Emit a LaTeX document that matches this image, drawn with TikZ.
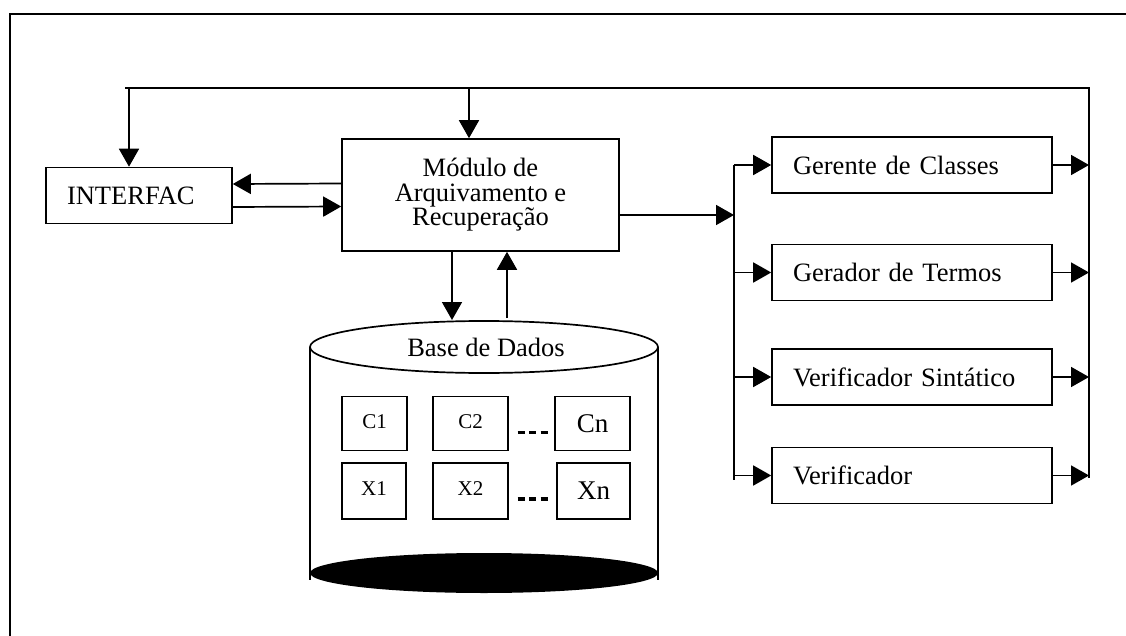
\documentclass[tikz,border=0pt]{standalone}
\usepackage{fontspec}
\setmainfont{Liberation Serif}
\usetikzlibrary{arrows.meta,positioning}

\begin{document}
\begin{tikzpicture}[x=1pt, y=-1pt, line width=1.7pt, >={Triangle[length=18pt,width=20pt]},
  box/.style={draw, line width=1.6pt, inner sep=0pt, font=\fontsize{26.5}{24.5}\selectfont, align=center},
  modbox/.style={box, minimum width=277pt, minimum height=112pt},
  sidebox/.style={box, minimum width=280pt, minimum height=56pt, text width=238pt, align=left},
  cell/.style={draw, line width=1.4pt, inner sep=0pt, minimum height=54pt, font=\fontsize{21}{22}\selectfont},
  bigcell/.style={cell, font=\fontsize{27}{28}\selectfont}]

  \useasboundingbox (0,0) rectangle (1126,636);

  % frame
  \draw (10,636) -- (10,14) -- (1126,14);

  % main blocks
  \node (inter) [box, minimum width=186pt, minimum height=56pt, text width=144pt, align=left] at (139,195.5) {INTERFAC};
  \node (mod) [modbox] at (480.5,195) {Módulo de\\Arquivamento e\\Recuperação};

  \node (gc) [sidebox] at (912,165) {Gerente de Classes};
  \node (gt) [sidebox] at (912,272.5) {Gerador de Termos};
  \node (vs) [sidebox] at (912,377) {Verificador Sintático};
  \node (vf) [sidebox] at (912,475.5) {Verificador};

  % database
  \draw (310,347) -- (310,580);
  \draw (658,347) -- (658,580);
  \fill (484,573) ellipse [x radius=174pt, y radius=20pt];
  \draw[fill=white] (484,347) ellipse [x radius=174pt, y radius=26pt];
  \node (db) [font=\fontsize{26.5}{27}\selectfont] at (486,347) {Base de Dados};

  \node (c1) [cell, minimum width=65pt] at (374.5,423.5) {\raisebox{4pt}{C1}};
  \node (c2) [cell, minimum width=75pt] at (470.5,423.5) {\raisebox{4pt}{C2}};
  \node (cn) [bigcell, minimum width=75pt] at (592.5,423.5) {Cn};
  \node (x1) [cell, minimum width=64pt, minimum height=56pt] at (374,491) {\raisebox{4pt}{X1}};
  \node (x2) [cell, minimum width=75pt, minimum height=56pt] at (470.5,491) {\raisebox{4pt}{X2}};
  \node (xn) [bigcell, minimum width=73pt, minimum height=56pt] at (593.5,491) {Xn};
  \draw[line width=3.5pt, dash pattern=on 7pt off 4.5pt] (c2.east) ++(9pt,-9pt) -- ++(30pt,0);
  \draw[line width=3.5pt, dash pattern=on 7pt off 4.5pt] (x2.east) ++(9pt,-8pt) -- ++(30pt,0);

  % buses
  \coordinate (tl) at (125,88);
  \coordinate (tr) at (1089,88);
  \coordinate (br) at (1089,478);
  \coordinate (bl) at (734,165);
  \coordinate (bb) at (734,480);
  \draw (tl) -- (tr) -- (br);
  \draw (bl) -- (bb);

  % connectors
  \coordinate (ia) at ([xshift=-10pt]inter.north);
  \coordinate (ma) at ([xshift=-11.5pt]mod.north);
  \draw[->] (ia |- tl) -- (ia);
  \draw[->] (ma |- tl) -- (ma);
  \draw[->] ([yshift=11.5pt]mod.west) -- ([yshift=11.5pt]inter.east);
  \draw[->] ([yshift=-11.5pt]inter.east) -- ([yshift=-11.5pt]mod.west);

  \coordinate (dbin) at (452,320);
  \coordinate (dbout) at (507,318);
  \draw[->] (mod.south -| dbin) -- (dbin);
  \draw[->] (dbout) -- (mod.south -| dbout);

  \coordinate (mo) at ([yshift=-20pt]mod.east);
  \draw[->] (mo) -- (mo -| bl);

  \foreach \n in {gc,gt,vs,vf} {
    \draw[->] (\n.west -| bl) -- (\n.west);
    \draw[->] (\n.east) -- (\n.east -| tr);
  }
\end{tikzpicture}
\end{document}
